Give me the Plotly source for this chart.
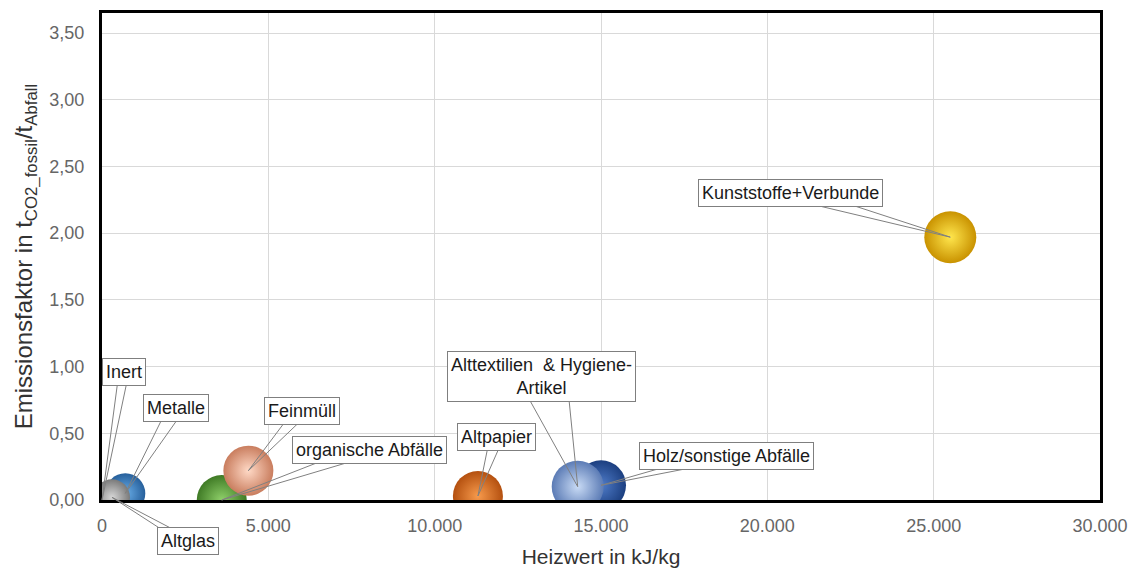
import plotly.graph_objects as go

# Abfallfraktionen: Heizwert (kJ/kg) und fossiler Emissionsfaktor (t CO2 / t Abfall)
fraktionen = ["Inert", "Metalle", "Altglas", "organische Abfälle", "Feinmüll",
              "Altpapier", "Holz/sonstige Abfälle",
              "Alttextilien  & Hygiene-<br>Artikel", "Kunststoffe+Verbunde"]
heizwert = [0, 700, 300, 3600, 4400, 11300, 15000, 14300, 25500]
emissionsfaktor = [0.00, 0.05, 0.02, 0.00, 0.22, 0.03, 0.11, 0.10, 1.97]
blasen_groesse = [8, 40, 36, 50, 50, 50, 50, 52, 52]

# Kugelfarben: Rand (dunkel) und Zentrum (hell)
farbe_rand = ["#8c8c8c", "#27609c", "#7a7a7a", "#3f7a25", "#c97d5e",
              "#b4500f", "#1c3f80", "#5b7bb5", "#c99200"]
farbe_mitte = ["#d0d0d0", "#6aaee8", "#d6d6d6", "#8fd06a", "#ffd9c6",
               "#f79a4c", "#4f7cc9", "#c9dbf5", "#ffe64d"]

# Beschriftungen: Versatz (px) der Textbox zum Punkt und halbe Keilbreite
label_dx = [22, 51, 76, 148, 54, 19, 125, -36, -160]
label_dy = [-128, -85, 44, -50, -60, -59, -29, -110, -44]
keil = [5, 9, 8, 20, 9, 7, 24, 25, 25]

x_ticks = [0, 5000, 10000, 15000, 20000, 25000, 30000]
y_ticks = [0, 0.5, 1.0, 1.5, 2.0, 2.5, 3.0, 3.5]

fig = go.Figure()
fig.add_trace(go.Scatter(
    x=heizwert, y=emissionsfaktor, mode="markers", cliponaxis=True,
    marker=dict(size=blasen_groesse, sizemode="diameter", color=farbe_rand,
                gradient=dict(type="radial", color=farbe_mitte),
                line=dict(width=0), opacity=1),
    hoverinfo="skip", showlegend=False,
))

annots = []
keil_farbe = "#808080"
# Keillinien der Legendenboxen
for xv, yv, dx, dy, w in zip(heizwert, emissionsfaktor, label_dx, label_dy, keil):
    for s in (-1, 1):
        annots.append(dict(x=xv, y=yv, xref="x", yref="y", text="",
                           showarrow=True, arrowhead=0, arrowwidth=1,
                           arrowcolor=keil_farbe, ax=dx + s * w, ay=dy,
                           standoff=0, startstandoff=0))
# Textboxen
for xv, yv, name, dx, dy in zip(heizwert, emissionsfaktor, fraktionen, label_dx, label_dy):
    annots.append(dict(x=xv, y=yv, xref="x", yref="y", text=name,
                       showarrow=True, arrowcolor="rgba(0,0,0,0)", ax=dx, ay=dy,
                       bgcolor="white", bordercolor="#7f7f7f", borderwidth=1,
                       borderpad=3, align="center",
                       font=dict(family="Liberation Sans, Arial", size=18, color="#1a1a1a")))

fig.update_layout(
    width=1137, height=568,
    margin=dict(l=102, r=37, t=13, b=68, autoexpand=False),
    paper_bgcolor="white", plot_bgcolor="white",
    separators=",.",
    font=dict(family="Liberation Sans, Arial", size=18, color="#595959"),
    annotations=annots,
    xaxis=dict(range=[0, 30000], tickvals=x_ticks, tickformat=",d",
               showgrid=True, gridcolor="#d9d9d9", gridwidth=1, automargin=False,
               zeroline=False, showline=True, linecolor="black", linewidth=3,
               mirror=True, ticks="", ticklabelstandoff=7,
               tickfont=dict(size=18, color="#666666"),
               title=dict(text="Heizwert in kJ/kg", standoff=16,
                          font=dict(size=21, color="#333333"))),
    yaxis=dict(range=[0, 3.65], tickvals=y_ticks, tickformat=".2f",
               showgrid=True, gridcolor="#d9d9d9", gridwidth=1, automargin=False,
               zeroline=False, showline=True, linecolor="black", linewidth=3,
               mirror=True, ticks="", ticklabelstandoff=11,
               tickfont=dict(size=18, color="#666666"),
               title=dict(text="Emissionsfaktor in t<sub>CO2_fossil</sub>/t<sub>Abfall</sub>",
                          standoff=10, font=dict(size=24, color="#333333"))),
)

fig.write_html("out.html")
